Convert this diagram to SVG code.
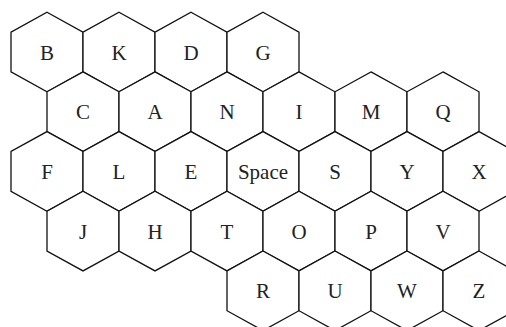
<svg xmlns="http://www.w3.org/2000/svg" xmlns:xlink="http://www.w3.org/1999/xlink" width="506" height="327" viewBox="0 0 506 327">
<style>
.hex{fill:#fff;stroke:#111;stroke-width:1.3;stroke-linejoin:miter}
.lbl{font-family:"Liberation Serif","Times New Roman",serif;font-size:21px;fill:#222;text-anchor:middle}
</style>
<defs>
<polygon id="h" class="hex" points="0,-39.8 36,-19.9 36,19.9 0,39.8 -36,19.9 -36,-19.9"/>
</defs>
<rect width="506" height="327" fill="#fff"/>
<g id="connectors"></g>
<g id="B" transform="translate(47,52)"><use xlink:href="#h" href="#h"/><text class="lbl" y="7.5">B</text></g>
<g id="K" transform="translate(119,52)"><use xlink:href="#h" href="#h"/><text class="lbl" y="7.5">K</text></g>
<g id="D" transform="translate(191,52)"><use xlink:href="#h" href="#h"/><text class="lbl" y="7.5">D</text></g>
<g id="G" transform="translate(263,52)"><use xlink:href="#h" href="#h"/><text class="lbl" y="7.5">G</text></g>
<g id="C" transform="translate(83,111.7)"><use xlink:href="#h" href="#h"/><text class="lbl" y="7.5">C</text></g>
<g id="A" transform="translate(155,111.7)"><use xlink:href="#h" href="#h"/><text class="lbl" y="7.5">A</text></g>
<g id="N" transform="translate(227,111.7)"><use xlink:href="#h" href="#h"/><text class="lbl" y="7.5">N</text></g>
<g id="I" transform="translate(299,111.7)"><use xlink:href="#h" href="#h"/><text class="lbl" y="7.5">I</text></g>
<g id="M" transform="translate(371,111.7)"><use xlink:href="#h" href="#h"/><text class="lbl" y="7.5">M</text></g>
<g id="Q" transform="translate(443,111.7)"><use xlink:href="#h" href="#h"/><text class="lbl" y="7.5">Q</text></g>
<g id="F" transform="translate(47,171.4)"><use xlink:href="#h" href="#h"/><text class="lbl" y="7.5">F</text></g>
<g id="L" transform="translate(119,171.4)"><use xlink:href="#h" href="#h"/><text class="lbl" y="7.5">L</text></g>
<g id="E" transform="translate(191,171.4)"><use xlink:href="#h" href="#h"/><text class="lbl" y="7.5">E</text></g>
<g id="Space" transform="translate(263,171.4)"><use xlink:href="#h" href="#h"/><text class="lbl" y="7.5">Space</text></g>
<g id="S" transform="translate(335,171.4)"><use xlink:href="#h" href="#h"/><text class="lbl" y="7.5">S</text></g>
<g id="Y" transform="translate(407,171.4)"><use xlink:href="#h" href="#h"/><text class="lbl" y="7.5">Y</text></g>
<g id="X" transform="translate(479,171.4)"><use xlink:href="#h" href="#h"/><text class="lbl" y="7.5">X</text></g>
<g id="J" transform="translate(83,231.1)"><use xlink:href="#h" href="#h"/><text class="lbl" y="7.5">J</text></g>
<g id="H" transform="translate(155,231.1)"><use xlink:href="#h" href="#h"/><text class="lbl" y="7.5">H</text></g>
<g id="T" transform="translate(227,231.1)"><use xlink:href="#h" href="#h"/><text class="lbl" y="7.5">T</text></g>
<g id="O" transform="translate(299,231.1)"><use xlink:href="#h" href="#h"/><text class="lbl" y="7.5">O</text></g>
<g id="P" transform="translate(371,231.1)"><use xlink:href="#h" href="#h"/><text class="lbl" y="7.5">P</text></g>
<g id="V" transform="translate(443,231.1)"><use xlink:href="#h" href="#h"/><text class="lbl" y="7.5">V</text></g>
<g id="R" transform="translate(263,290.8)"><use xlink:href="#h" href="#h"/><text class="lbl" y="7.5">R</text></g>
<g id="U" transform="translate(335,290.8)"><use xlink:href="#h" href="#h"/><text class="lbl" y="7.5">U</text></g>
<g id="W" transform="translate(407,290.8)"><use xlink:href="#h" href="#h"/><text class="lbl" y="7.5">W</text></g>
<g id="Z" transform="translate(479,290.8)"><use xlink:href="#h" href="#h"/><text class="lbl" y="7.5">Z</text></g>
</svg>
